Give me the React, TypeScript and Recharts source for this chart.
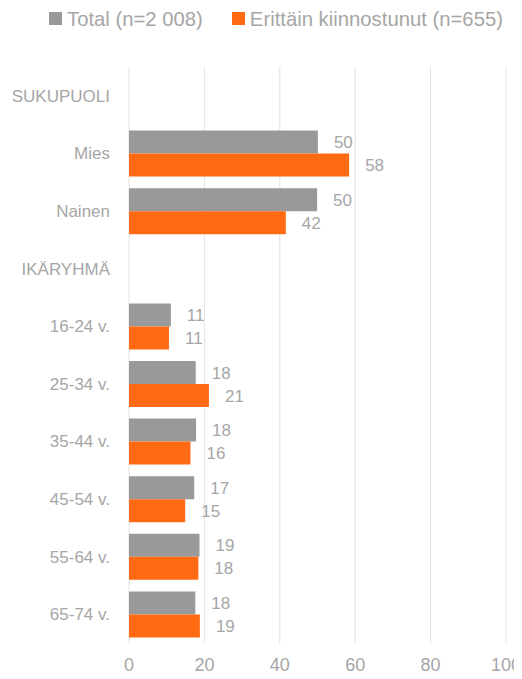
import { BarChart, Bar, XAxis, YAxis, CartesianGrid, Legend, LabelList } from 'recharts'

const categories = ['SUKUPUOLI', 'Mies', 'Nainen', 'IKÄRYHMÄ', '16-24 v.', '25-34 v.', '35-44 v.', '45-54 v.', '55-64 v.', '65-74 v.']
const total = [null, 50.1, 49.9, null, 11.1, 17.7, 17.8, 17.3, 18.7, 17.6]
const interested = [null, 58.4, 41.6, null, 10.6, 21.2, 16.3, 14.9, 18.4, 18.8]
const xTicks = [0, 20, 40, 60, 80, 100]

const data = categories.map((name, i) => ({ name, total: total[i], interested: interested[i] }))

const FONT = '"Liberation Sans", Arial, sans-serif'
const TEXT = '#a6a6a6'
const GRAY = '#999999'
const ORANGE = '#ff6a13'

// no scrollbars in the screenshot
if (typeof document !== 'undefined') document.body.style.overflow = 'hidden'

function LegendBox() {
  const item = (color: string, label: string) => (
    <span style={{ display: 'inline-flex', alignItems: 'center', marginRight: 29 }}>
      <span style={{ width: 13, height: 13, background: color, display: 'inline-block', marginRight: 5 }} />
      {label}
    </span>
  )
  return (
    <div style={{ height: 30, paddingLeft: 41, fontFamily: FONT, fontSize: 20.3, color: TEXT, whiteSpace: 'nowrap', lineHeight: '20px' }}>
      {item(GRAY, 'Total (n=2 008)')}
      {item(ORANGE, 'Erittäin kiinnostunut (n=655)')}
    </div>
  )
}

const fmt = (v: any) => (v == null ? '' : Math.round(v))

export default function App() {
  return (
    <div style={{ width: 506, height: 671, marginBottom: -8 }}>
      <BarChart width={514} height={671} data={data} layout="vertical" barGap={0} barCategoryGap={6}
        style={{ overflow: 'visible' }}
        margin={{ top: 29, right: 16, bottom: 6, left: 0 }}>
        <CartesianGrid horizontal={false} stroke="#e2e2e2" />
        <Legend verticalAlign="top" align="left" wrapperStyle={{ top: 0, left: 0 }} content={() => <LegendBox />} />
        <XAxis type="number" domain={[0, 100]} ticks={xTicks} axisLine={false} tickLine={false} tickMargin={9}
          height={30} tick={{ fill: TEXT, fontSize: 18, fontFamily: FONT }} />
        <YAxis type="category" dataKey="name" width={121} axisLine={false} tickLine={false} tickSize={0} tickMargin={19}
          tick={{ fill: TEXT, fontSize: 17, fontFamily: FONT }} />
        <Bar dataKey="total" fill={GRAY} isAnimationActive={false}>
          <LabelList dataKey="total" position="right" offset={16} formatter={fmt} fill={TEXT} fontSize={17} fontFamily={FONT} />
        </Bar>
        <Bar dataKey="interested" fill={ORANGE} isAnimationActive={false}>
          <LabelList dataKey="interested" position="right" offset={16} formatter={fmt} fill={TEXT} fontSize={17} fontFamily={FONT} />
        </Bar>
      </BarChart>
    </div>
  )
}
